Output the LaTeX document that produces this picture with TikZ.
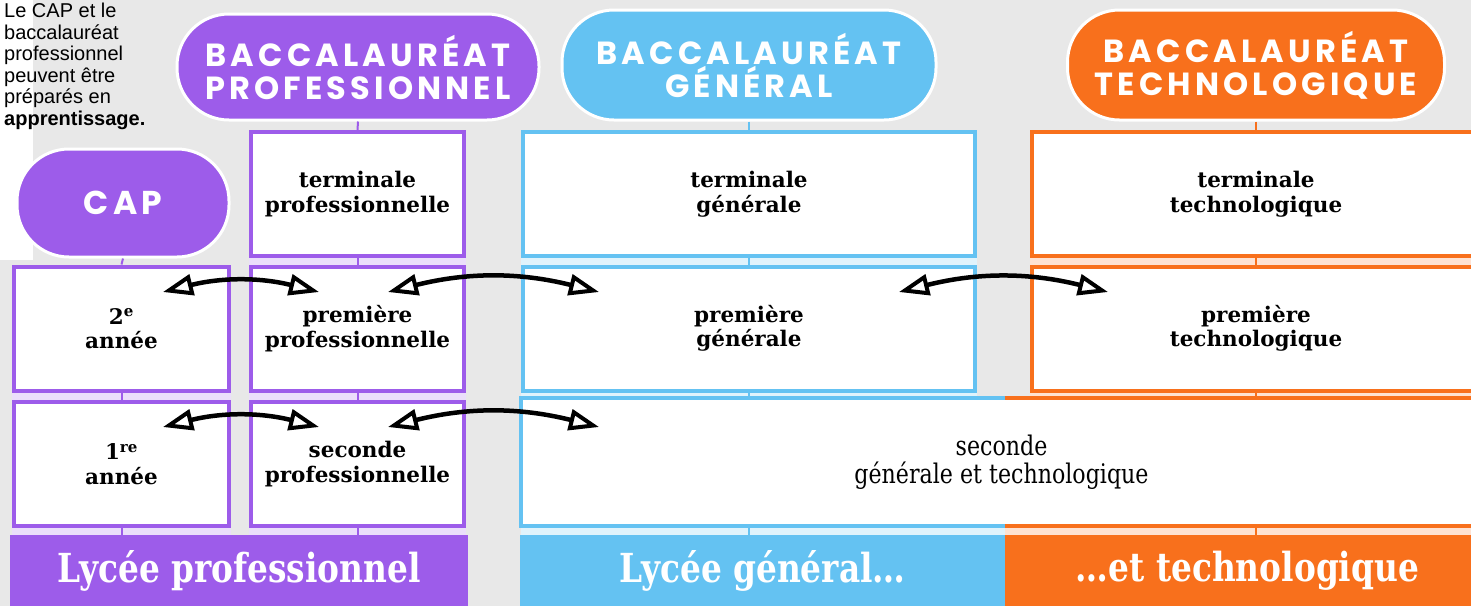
\documentclass[tikz,border=0pt]{standalone}
\usepackage{fontspec}
\setmainfont{DejaVu Serif}
\newfontfamily\notefont{Liberation Sans}
\newfontfamily\pillfont{Poppins}[LetterSpace=13]
\newfontfamily\barfont{DejaVu Serif}[FakeStretch=0.82]
\usetikzlibrary{arrows.meta,backgrounds,calc}

\definecolor{purp}{HTML}{9D5CEA}
\definecolor{sky}{HTML}{64C2F2}
\definecolor{tang}{HTML}{F8701C}
\definecolor{bggray}{HTML}{E8E8E8}

\tikzset{
  pill/.style={draw=white, line width=3pt, fill=#1, rounded corners=52pt, text=white,
    align=center, inner sep=0pt, font=\pillfont\bfseries\fontsize{32}{33}\selectfont},
  yearbox/.style={draw=#1, line width=4pt, fill=white, align=center, inner sep=0pt,
    minimum height=124pt, font=\bfseries\fontsize{21.5}{24.5}\selectfont},
  bar/.style={fill=#1, text=white, inner sep=0pt, minimum height=71pt,
    font=\barfont\bfseries\fontsize{40}{44}\selectfont},
  tick/.style={draw=#1, line width=2pt},
  xfer/.style={line width=4.5pt,
    arrows={Triangle[length=30pt,width=21pt,fill=white,line width=4pt]-Triangle[length=30pt,width=21pt,fill=white,line width=4pt]}},
}

\begin{document}
\begin{tikzpicture}[x=1pt,y=-1pt]
\useasboundingbox (0,0) rectangle (1471,606);
\clip (0,0) rectangle (1471,606);

% note
\node[anchor=north west, align=left, inner sep=0pt,
  font=\notefont\fontsize{20}{21.5}\selectfont] (note) at (4,3)
  {Le CAP et le\\baccalauréat\\professionnel\\peuvent être\\préparés en\\\textbf{apprentissage.}};

% diplomas
\node[pill=purp, minimum width=362pt, minimum height=106pt] (bpro) at (358,67) {BACCALAURÉAT\\PROFESSIONNEL};
\node[pill=sky, minimum width=374pt, minimum height=110pt] (bgen) at (749,65) {BACCALAURÉAT\\GÉNÉRAL};
\node[pill=tang, minimum width=377pt, minimum height=110pt] (btech) at (1256,65) {BACCALAURÉAT\\TECHNOLOGIQUE};
\node[pill=purp, minimum width=212pt, minimum height=108pt,
  font=\pillfont\bfseries\fontsize{33}{34}\selectfont] (cap) at (123,203) {CAP};

% years
\node[yearbox=purp, minimum width=213pt] (tpro) at (357.5,194) {terminale\\professionnelle};
\node[yearbox=sky, minimum width=452pt] (tgen) at (749,194) {terminale\\générale};
\node[yearbox=tang, minimum width=448pt] (ttech) at (1256,194) {terminale\\technologique};
\node[yearbox=purp, minimum width=215pt] (a2) at (121.5,328.5) {2\textsuperscript{e}\\année};
\node[yearbox=purp, minimum width=213pt] (ppro) at (357.5,328.5) {première\\professionnelle};
\node[yearbox=sky, minimum width=452pt] (pgen) at (749,328.5) {première\\générale};
\node[yearbox=tang, minimum width=448pt] (ptech) at (1256,328.5) {première\\technologique};
\node[yearbox=purp, minimum width=215pt] (a1) at (121.5,464) {1\textsuperscript{re}\\année};
\node[yearbox=purp, minimum width=213pt] (spro) at (357.5,464) {seconde\\professionnelle};
\node[yearbox=sky, draw=none, minimum width=957pt,
  font=\barfont\fontsize{27}{28}\selectfont] (sgt) at (1001.5,462) {seconde\\générale et technologique};

% schools
\node[bar=purp, minimum width=458pt] (lpro) at (239,570.5) {Lycée professionnel};
\node[bar=sky, minimum width=485pt] (lgen) at (762.5,570.5) {Lycée général…};
\node[bar=tang, minimum width=485pt] (ltech) at (1247.5,570.5) {…et technologique};

\draw[sky, line width=4pt] (sgt.north west -| lgen.east) -- (sgt.north west) -- (sgt.south west) -- (sgt.south west -| lgen.east);
\draw[tang, line width=4pt] (sgt.north west -| lgen.east) -- (sgt.north east) -- (sgt.south east) -- (sgt.south west -| lgen.east);

\begin{scope}[on background layer]
  \fill[bggray] (0,0) rectangle (1471,606);
  \fill[white] (0,0) rectangle (33,260);
  \foreach \u/\l/\c in {tpro/ppro/purp, ppro/spro/purp, a2/a1/purp, a1/lpro/purp, spro/lpro/purp,
      tgen/pgen/sky, pgen/sgt/sky, ttech/ptech/tang, ptech/sgt/tang, sgt/lgen/sky}
    \fill[\c!20] (\u.south west) rectangle (\u.south east |- \l.north);
  \fill[tang!20] (sgt.south -| lgen.east) rectangle (sgt.south east |- ltech.north);
\end{scope}

% links
\draw[tick=purp] (bpro.south) -- (tpro.north);
\draw[tick=sky] (bgen.south) -- (tgen.north);
\draw[tick=tang] (btech.south) -- (ttech.north);
\draw[tick=purp] (cap.south) -- (a2.north);
\foreach \u/\l/\c in {tpro/ppro/purp, ppro/spro/purp, a2/a1/purp, a1/lpro/purp, spro/lpro/purp,
    tgen/pgen/sky, ttech/ptech/tang}
  \draw[tick=\c] (\u.south) -- (\u.south |- \l.north);
\draw[tick=sky] (pgen.south) -- (pgen.south |- sgt.north);
\draw[tick=tang] (ptech.south) -- (ptech.south |- sgt.north);
\draw[tick=sky] (pgen.south |- sgt.south) -- (pgen.south |- lgen.north);
\draw[tick=tang] (ptech.south |- sgt.south) -- (ptech.south |- ltech.north);

% passerelles
\coordinate (p1) at (163,292);
\coordinate (q1) at (319,292);
\coordinate (p2) at (388,292);
\coordinate (q2) at (599,292);
\coordinate (p3) at (899,292);
\coordinate (q3) at (1108,292);
\coordinate (p4) at (163,427);
\coordinate (q4) at (319,427);
\coordinate (p5) at (388,427);
\coordinate (q5) at (599,427);
\foreach \i in {1,...,5}
  \draw[xfer] (p\i) to[bend left=14] (q\i);
\end{tikzpicture}
\end{document}
